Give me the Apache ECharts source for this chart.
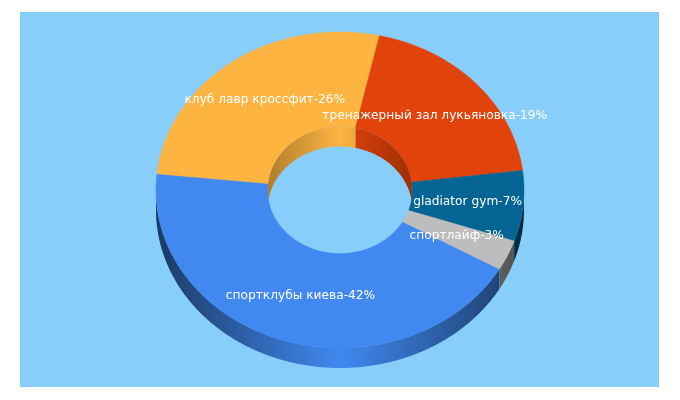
<!DOCTYPE html>
<html><head><meta charset="utf-8">
<style>html,body{margin:0;padding:0;background:#fff}#c{width:680px;height:400px}</style>
<script src="https://cdn.jsdelivr.net/npm/echarts@6/dist/echarts.min.js"></script>
</head><body><div id="c"></div>
<script>
const names = ['спортклубы киева','клуб лавр кроссфит','тренажерный зал лукьяновка','gladiator gym','спортлайф'];
const values = [42,26,19,7,3];
const colors = ['#4189F0','#FDB441','#E2430A','#046595','#BDBDBD'];

const CX=340, CY=190, RX=184, RY=158, IX=72.5, IY=63.5, DEPTH=20, START=-30;
const total = values.reduce((a,b)=>a+b,0);
const rad = d=>d*Math.PI/180;
const pt = (a,rx,ry,dy)=>[CX+rx*Math.cos(rad(a)), CY-ry*Math.sin(rad(a))+(dy||0)];
function arc(a0,a1,rx,ry,dy){
  const n=Math.max(2,Math.ceil(Math.abs(a1-a0)*2)), p=[];
  for(let i=0;i<=n;i++) p.push(pt(a0+(a1-a0)*i/n,rx,ry,dy));
  return p;
}
function shade(hex,f){
  const n=parseInt(hex.slice(1),16);
  return 'rgb('+[(n>>16)&255,(n>>8)&255,n&255].map(v=>Math.round(v*f)).join(',')+')';
}
function grad(hex,x0,x1,edge){
  return {type:'linear',x:x0,y:0,x2:x1,y2:0,global:true,colorStops:[
    {offset:0,color:shade(hex,edge)},{offset:.5,color:hex},{offset:1,color:shade(hex,edge)}]};
}
function renderItem(params,api){
  const i=params.dataIndex, v=api.value(0);
  let before=0; for(let k=0;k<i;k++) before+=values[k];
  const a0=START-before/total*360, a1=a0-v/total*360, mid=(a0+a1)/2, color=colors[i];
  const children=[];
  // outer wall: only the part of the slice on the near (lower) half
  const ranges=[[-180,0],[-540,-360]];
  ranges.forEach(r=>{
    const s=Math.min(a0,r[1]), e=Math.max(a1,r[0]);
    if(s>e){
      const top=arc(s,e,RX,RY,0), bot=arc(e,s,RX,RY,DEPTH);
      children.push({type:'polygon',z2:1,shape:{points:top.concat(bot)},
        style:{fill:grad(color,CX-RX,CX+RX,.42)}});
    }
  });
  // inner wall: only the part on the far (upper) half
  [[0,180],[-360,-180]].forEach(r=>{
    const s=Math.min(a0,r[1]), e=Math.max(a1,r[0]);
    if(s>e){
      const top=arc(s,e,IX,IY,0), bot=arc(e,s,IX,IY,DEPTH);
      children.push({type:'polygon',z2:1,shape:{points:top.concat(bot)},
        style:{fill:grad(color,CX-IX,CX+IX,.7)}});
    }
  });
  // top face
  children.push({type:'polygon',z2:2,shape:{points:arc(a0,a1,RX,RY,0).concat(arc(a1,a0,IX,IY,0))},
    style:{fill:color,stroke:color,lineWidth:.5}});
  // label
  const lp=pt(mid,(RX+IX)/2,(RY+IY)/2,0);
  children.push({type:'text',z2:10,x:lp[0],y:lp[1],
    style:{text:names[i]+'-'+v+'%',fill:'#fff',font:'12.2px "DejaVu Sans"',align:'center',verticalAlign:'middle'}});
  return {type:'group',children};
}
const chart=echarts.init(document.getElementById('c'),null,{renderer:'canvas'});
chart.setOption({
  animation:false,
  backgroundColor:'#fff',
  graphic:[{type:'rect',z:-1,silent:true,shape:{x:20,y:12,width:639,height:375},style:{fill:'#87CEFA'}}],
  series:[{type:'custom',coordinateSystem:'none',silent:true,renderItem,
    data:names.map((n,i)=>({name:n,value:[values[i]]}))}]
});
</script></body></html>
